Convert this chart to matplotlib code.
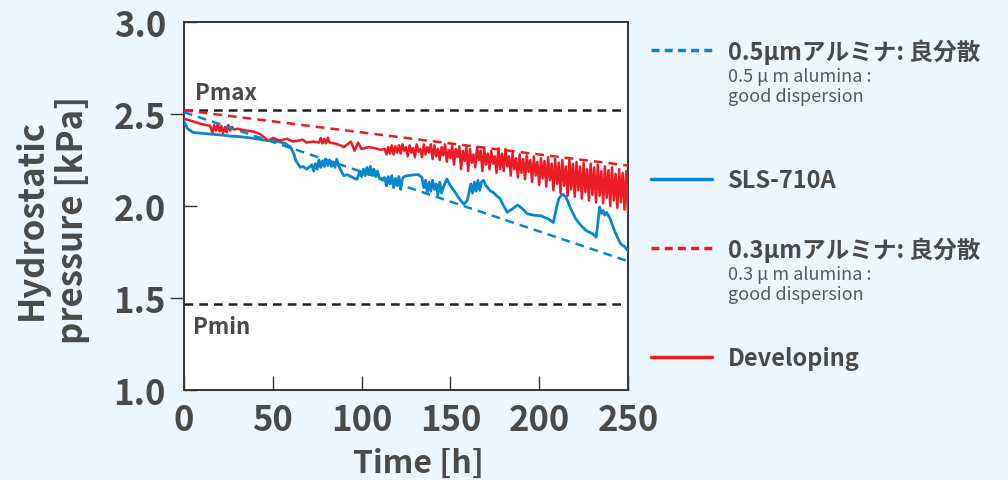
import numpy as np
import matplotlib
matplotlib.use('Agg')
import matplotlib.pyplot as plt

plt.rcParams['font.family'] = ['Noto Sans CJK JP', 'DejaVu Sans']

# ---------------- data ----------------
pmax = 2.52
pmin = 1.47

ref05_t = [0, 250]
ref05_p = [2.51, 1.70]
ref03_t = [0, 250]
ref03_p = [2.52, 2.22]

sls_t = [0, 2, 5, 10, 16, 22, 26, 30, 35, 41, 47, 50, 53, 57, 60, 62, 63, 65.5, 67, 69,
         71, 72, 73, 74, 75, 76, 77, 78, 79, 80, 81, 82, 83, 84, 85, 86, 87, 88, 89, 90,
         92, 94, 96, 97.5, 99, 100, 101, 102, 103, 104, 105, 106, 107, 108, 109, 110, 112, 113, 114, 115,
         116, 117, 118, 119, 120, 121, 122, 123, 124, 126, 130, 132, 134, 135, 136, 137, 138, 139, 140, 141,
         142, 143, 144, 145, 146, 148, 150, 153, 155, 157.5, 159.5, 161.5, 162.5, 163.5, 164.5, 165.5, 166.5, 167.5, 168.6, 170,
         172.4, 174, 176, 178, 180, 182, 185, 187.8, 190, 193.5, 197, 201, 205, 208, 209.5, 211, 213, 215, 218, 220.6,
         223, 226.4, 230, 232, 233, 234, 235, 236, 237, 238, 240, 242, 244, 246, 248, 250]
sls_p = [2.46, 2.42, 2.40, 2.395, 2.39, 2.385, 2.38, 2.378, 2.373, 2.365, 2.355, 2.356, 2.35, 2.34, 2.32, 2.28, 2.246, 2.21, 2.215, 2.20,
         2.215, 2.225, 2.19, 2.23, 2.20, 2.25, 2.21, 2.245, 2.215, 2.255, 2.22, 2.25, 2.215, 2.24, 2.21, 2.255, 2.22, 2.20, 2.18, 2.165,
         2.17, 2.16, 2.15, 2.145, 2.19, 2.16, 2.20, 2.165, 2.21, 2.17, 2.215, 2.175, 2.20, 2.16, 2.19, 2.15, 2.14, 2.155, 2.11, 2.16,
         2.12, 2.165, 2.10, 2.15, 2.11, 2.16, 2.09, 2.15, 2.16, 2.165, 2.17, 2.17, 2.155, 2.10, 2.14, 2.07, 2.13, 2.08, 2.14, 2.09,
         2.12, 2.06, 2.13, 2.07, 2.10, 2.147, 2.11, 2.07, 2.04, 2.01, 2.03, 2.12, 2.07, 2.13, 2.08, 2.14, 2.085, 2.13, 2.14, 2.11,
         2.083, 2.075, 2.056, 2.04, 2.00, 1.966, 1.985, 2.005, 1.99, 1.957, 1.95, 1.947, 1.93, 1.91, 1.98, 2.04, 2.065, 2.05, 1.98, 1.93,
         1.90, 1.866, 1.85, 1.83, 1.90, 1.995, 1.96, 1.975, 1.95, 1.965, 1.93, 1.875, 1.83, 1.793, 1.78, 1.757]

dev_t_early = [0, 5, 10, 14.7, 16, 17, 18, 19, 20, 21, 22, 23, 24, 25, 26, 27, 28, 30, 35, 39,
               43, 47.5, 50, 54, 58, 61.6, 64, 67, 69, 73, 76, 77, 78, 79, 80, 81, 82, 85, 88, 90,
               92, 94, 96, 98, 100, 104, 107, 110.6, 113, 114, 115, 116, 117, 118, 119, 120]
dev_p_early = [2.475, 2.46, 2.445, 2.436, 2.40, 2.44, 2.41, 2.445, 2.405, 2.435, 2.395, 2.43, 2.40, 2.44, 2.41, 2.43, 2.415, 2.42, 2.41, 2.405,
               2.39, 2.355, 2.37, 2.355, 2.365, 2.35, 2.355, 2.36, 2.345, 2.35, 2.345, 2.37, 2.34, 2.365, 2.34, 2.37, 2.345, 2.34, 2.33, 2.32,
               2.335, 2.35, 2.30, 2.345, 2.31, 2.32, 2.315, 2.306, 2.31, 2.28, 2.32, 2.285, 2.33, 2.28, 2.325, 2.29]
dev_t_late = list(range(121, 251))
dev_p_late = [2.33, 2.285, 2.335, 2.30, 2.32, 2.27, 2.33, 2.29, 2.315, 2.265,
              2.335, 2.295, 2.31, 2.265, 2.335, 2.28, 2.32, 2.29, 2.335, 2.255,
              2.33, 2.27, 2.31, 2.25, 2.32, 2.275, 2.335, 2.24, 2.305, 2.26,
              2.33, 2.225, 2.31, 2.265, 2.325, 2.20, 2.30, 2.245, 2.32, 2.19,
              2.31, 2.235, 2.28, 2.21, 2.32, 2.25, 2.30, 2.19, 2.31, 2.225,
              2.285, 2.20, 2.30, 2.23, 2.27, 2.18, 2.315, 2.20, 2.285, 2.19,
              2.31, 2.215, 2.27, 2.165, 2.29, 2.20, 2.26, 2.155, 2.28, 2.18,
              2.255, 2.145, 2.275, 2.185, 2.25, 2.13, 2.27, 2.165, 2.24, 2.115,
              2.26, 2.15, 2.245, 2.105, 2.265, 2.14, 2.23, 2.085, 2.255, 2.12,
              2.235, 2.07, 2.25, 2.11, 2.215, 2.055, 2.255, 2.09, 2.23, 2.05,
              2.24, 2.085, 2.215, 2.04, 2.235, 2.075, 2.20, 2.03, 2.23, 2.06,
              2.21, 2.02, 2.225, 2.055, 2.19, 2.015, 2.215, 2.045, 2.195, 2.00,
              2.21, 2.03, 2.175, 1.99, 2.20, 2.02, 2.18, 1.98, 2.19, 1.965]
dev_t = dev_t_early + dev_t_late
dev_p = dev_p_early + dev_p_late

xticks = [0, 50, 100, 150, 200, 250]
yticks_major = [1.0, 2.0, 3.0]
yticks_minor = [1.5, 2.5]

leg_main = ['0.5μmアルミナ: 良分散', 'SLS-710A', '0.3μmアルミナ: 良分散', 'Developing']
leg_sub = ['0.5 μ m alumina :\ngood dispersion', None, '0.3 μ m alumina :\ngood dispersion', None]

# ---------------- style ----------------
BLUE = '#0a86d0'
RED = '#ec1c24'
TXT = '#4a4a4a'
BG = '#eef6fd'
SPINE = '#333333'

fig = plt.figure(figsize=(10.08, 4.81), dpi=100)
fig.patch.set_facecolor(BG)
W, H = 1008, 481
ax = fig.add_axes([184 / W, 1 - 391 / H, 444 / W, 368 / H])
ax.set_facecolor('white')

ax.axhline(pmax, color='#222222', lw=1.8, linestyle=(0, (3.5, 2.4)), zorder=2)
ax.axhline(pmin, color='#222222', lw=1.8, linestyle=(0, (3.5, 2.4)), zorder=2)

ax.plot(sls_t, sls_p, color=BLUE, lw=2.0, zorder=3, solid_joinstyle='round')
ax.plot(dev_t, dev_p, color=RED, lw=1.8, zorder=4, solid_joinstyle='round')
ax.plot(ref05_t, ref05_p, color=BLUE, lw=1.8, linestyle=(0, (3.5, 2.4)), zorder=5)
ax.plot(ref03_t, ref03_p, color=RED, lw=1.8, linestyle=(0, (3.5, 2.4)), zorder=5)

ax.text(6, 2.58, 'Pmax', fontsize=16, fontweight='bold', color=TXT, va='baseline', ha='left')
ax.text(5, 1.31, 'Pmin', fontsize=16, fontweight='bold', color=TXT, va='baseline', ha='left')

ax.set_xlim(0, 250)
ax.set_ylim(1.0, 3.0)
ax.set_xticks(xticks)
ax.set_xticklabels([str(v) for v in xticks])
ax.set_yticks(yticks_major)
ax.set_yticklabels(['%.1f' % v for v in yticks_major])
ax.set_yticks(yticks_minor, minor=True)
ax.set_yticklabels(['%.1f' % v for v in yticks_minor], minor=True)

ax.tick_params(axis='x', which='major', direction='in', length=10, width=1, color=SPINE,
               labelsize=25, labelcolor=TXT, pad=9)
ax.tick_params(axis='y', which='major', direction='in', length=9, width=1, color=SPINE,
               labelsize=25, labelcolor=TXT, pad=13)
ax.tick_params(axis='y', which='minor', direction='out', length=10, width=1, color=SPINE,
               labelsize=25, labelcolor=TXT, pad=3)
for lab in ax.get_xticklabels() + ax.get_yticklabels() + ax.get_yticklabels(minor=True):
    lab.set_fontweight('bold')

for s in ax.spines.values():
    s.set_color(SPINE)
    s.set_linewidth(1.4)

ax.set_xlabel('Time [h]', fontsize=23, fontweight='bold', color=TXT, labelpad=4)
ax.xaxis.set_label_coords(0.527, -0.155)
ax.xaxis.label.set_va('top')
fig.text(52 / W, 1 - 220 / H, 'Hydrostatic\npressure [kPa]', rotation=90, ha='center', va='center',
         multialignment='center', fontsize=25, fontweight='bold', color=TXT, linespacing=1.2)

# ---------------- legend (overlay) ----------------
lax = fig.add_axes([0, 0, 1, 1])
lax.set_xlim(0, W)
lax.set_ylim(H, 0)
lax.axis('off')
lax.patch.set_alpha(0)

styles = [(BLUE, (0, (2.3, 1.5))), (BLUE, '-'), (RED, (0, (2.3, 1.5))), (RED, '-')]
rows = [51, 180, 249, 358]
for (c, ls), y, main, sub in zip(styles, rows, leg_main, leg_sub):
    lax.plot([651, 712], [y, y], color=c, lw=2.5, linestyle=ls, solid_capstyle='round')
    lax.text(728, y + 1, main, fontsize=17, fontweight='bold', color=TXT, va='center', ha='left')
    if sub:
        lax.text(728, y + 17, sub, fontsize=13, color='#5a5a5a', va='top', ha='left', linespacing=1.15)

fig.savefig('out.png', dpi=100, facecolor=BG)
